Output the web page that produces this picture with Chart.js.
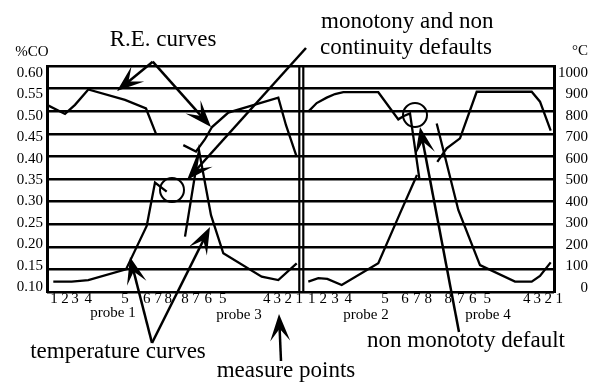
<!DOCTYPE html>
<html><head><meta charset="utf-8">
<script src="https://cdn.jsdelivr.net/npm/chart.js@4.4.1/dist/chart.umd.min.js"></script>
<style>html,body{margin:0;padding:0;background:#fff;}canvas{display:block;}</style>
</head><body>
<canvas id="c" width="590" height="384"></canvas>
<script>
// ---- measure points along the probes (x units) and their labels ----
const measurePositions = [7, 18, 28, 41.3, 78, 99.7, 111.3, 121.3, 138, 149, 161.3, 175.7, 219.7, 230.3, 241.3, 252.3,
                          264.7, 276.3, 288, 301.3, 338, 358, 369.7, 381.3, 401.3, 413.7, 425.7, 440.3, 479.7, 490.3, 501.3, 512.3];
const measureLabels = ['1','2','3','4','5','6','7','8','8','7','6','5','4','3','2','1',
                       '1','2','3','4','5','6','7','8','8','7','6','5','4','3','2','1'];
const coTicks = [0.10, 0.15, 0.20, 0.25, 0.30, 0.35, 0.40, 0.45, 0.50, 0.55, 0.60];
const tempTicks = [0, 100, 200, 300, 400, 500, 600, 700, 800, 900, 1000];

// ---- R.E. curves (%CO) ----
const reProbe1X = [0, 18, 28, 41.3, 78, 99, 109];
const reProbe1  = [0.514, 0.494, 0.514, 0.548, 0.525, 0.506, 0.450];
const reProbe3X = [136.3, 149, 158, 165, 181.3, 231.3, 239, 249.7];
const reProbe3  = [0.425, 0.411, 0.438, 0.465, 0.497, 0.530, 0.469, 0.399];
const reProbe2X = [261.3, 269.7, 279.7, 288, 296.3, 331.3, 351.3, 356.3, 363, 372.3];
const reProbe2  = [0.499, 0.518, 0.530, 0.538, 0.542, 0.542, 0.482, 0.489, 0.495, 0.352];
const reProbe4X = [390.3, 399.7, 413, 429.7, 484.7, 493, 503.7];
const reProbe4  = [0.388, 0.418, 0.440, 0.543, 0.543, 0.521, 0.457];

// ---- temperature curves (°C) ----
const tempProbe1X = [6.3, 24.7, 41.3, 79, 99.7, 108, 119.7];
const tempProbe1  = [46, 46, 53, 100, 292, 484, 444];
const tempProbe3X = [138, 152, 164, 176.3, 214.7, 231.3, 249.7];
const tempProbe3  = [245, 626, 340, 171, 68, 53, 127];
const tempProbe2X = [261.3, 271.3, 280.3, 294.7, 331.3, 353, 370];
const tempProbe2  = [46, 61, 58, 31, 127, 348, 518];
const tempProbe4X = [389.7, 411.3, 433, 468, 484.7, 493, 503.7];
const tempProbe4  = [746, 363, 119, 46, 46, 71, 131];

// ---- figure notes (in x units / %CO units) ----
const panelDivider = [252.3, 256.3];
const noteTexts = [
  {text: 'R.E. curves', x: 116, y: 0.6575, align: 'center', size: 23},
  {text: 'monotony and non', x: 274, y: 0.6973, align: 'left', size: 23},
  {text: 'continuity defaults', x: 273, y: 0.6398, align: 'left', size: 23},
  {text: '%CO', x: -15, y: 0.631, align: 'center', size: 15},
  {text: '°C', x: 533, y: 0.632, align: 'center', size: 15},
  {text: 'probe 1', x: 66, y: 0.0535, align: 'center', size: 15},
  {text: 'probe 3', x: 192, y: 0.050, align: 'center', size: 15},
  {text: 'probe 2', x: 319, y: 0.050, align: 'center', size: 15},
  {text: 'probe 4', x: 441, y: 0.050, align: 'center', size: 15},
  {text: 'temperature curves', x: 71, y: -0.0327, align: 'center', size: 23},
  {text: 'non monototy default', x: 419, y: -0.0084, align: 'center', size: 23},
  {text: 'measure points', x: 239, y: -0.0748, align: 'center', size: 23}
];
const noteArrows = [
  {from: [105.7, 0.6095], to: [70, 0.5447]},
  {from: [105.7, 0.6095], to: [164, 0.465]},
  {from: [259, 0.6398], to: [140, 0.3478]},
  {from: [105, -0.0128], to: [83, 0.1774]},
  {from: [105, -0.0128], to: [163, 0.2438]},
  {from: [234, -0.0527], to: [232, 0.0513]},
  {from: [412, 0.0115], to: [373, 0.465]}
];
const noteCircles = [[125, 0.3257], [368, 0.4916]];

function pts(xs, ys) { return xs.map((v, i) => ({x: v, y: ys[i]})); }
function series(label, xs, ys, axis) {
  return {label, data: pts(xs, ys), yAxisID: axis, borderColor: '#000', borderWidth: 2.3,
          pointRadius: 0, tension: 0, fill: false};
}

const FONT = '"Liberation Serif", "Times New Roman", serif';

function drawArrow(ctx, x1, y1, x2, y2) {
  const dx = x2 - x1, dy = y2 - y1, len = Math.hypot(dx, dy);
  const ux = dx / len, uy = dy / len, nx = -uy, ny = ux;
  const L = 27, W = 10;
  ctx.beginPath(); ctx.moveTo(x1, y1); ctx.lineTo(x2 - ux * L * 0.5, y2 - uy * L * 0.5); ctx.stroke();
  ctx.beginPath(); ctx.moveTo(x2, y2);
  ctx.lineTo(x2 - ux * L + nx * W, y2 - uy * L + ny * W);
  ctx.lineTo(x2 - ux * L * 0.55, y2 - uy * L * 0.55);
  ctx.lineTo(x2 - ux * L - nx * W, y2 - uy * L - ny * W);
  ctx.closePath(); ctx.fill();
}

const notesPlugin = {
  id: 'figureNotes',
  afterDraw(chart) {
    const {ctx, chartArea, scales: {x, y}} = chart;
    const px = u => x.getPixelForValue(u);
    const py = v => y.getPixelForValue(v);
    ctx.save();
    ctx.strokeStyle = '#000'; ctx.fillStyle = '#000';
    ctx.lineWidth = 2.2;
    panelDivider.forEach(u => {
      ctx.beginPath(); ctx.moveTo(px(u), chartArea.top); ctx.lineTo(px(u), chartArea.bottom); ctx.stroke();
    });
    ctx.lineWidth = 2;
    noteCircles.forEach(c => { ctx.beginPath(); ctx.arc(px(c[0]), py(c[1]), 12, 0, Math.PI * 2); ctx.stroke(); });
    ctx.lineWidth = 2.5;
    noteArrows.forEach(a => drawArrow(ctx, px(a.from[0]), py(a.from[1]), px(a.to[0]), py(a.to[1])));
    ctx.textBaseline = 'middle';
    noteTexts.forEach(t => {
      ctx.font = t.size + 'px ' + FONT;
      ctx.textAlign = t.align;
      ctx.fillText(t.text, px(t.x), py(t.y));
    });
    ctx.restore();
  }
};

new Chart(document.getElementById('c'), {
  type: 'line',
  data: {
    datasets: [
      series('R.E. probe 1', reProbe1X, reProbe1, 'y'),
      series('R.E. probe 3', reProbe3X, reProbe3, 'y'),
      series('R.E. probe 2', reProbe2X, reProbe2, 'y'),
      series('R.E. probe 4', reProbe4X, reProbe4, 'y'),
      series('T probe 1', tempProbe1X, tempProbe1, 'y2'),
      series('T probe 3', tempProbe3X, tempProbe3, 'y2'),
      series('T probe 2', tempProbe2X, tempProbe2, 'y2'),
      series('T probe 4', tempProbe4X, tempProbe4, 'y2')
    ]
  },
  options: {
    responsive: false, animation: false, devicePixelRatio: 1,
    layout: {padding: {top: 66, right: 2, left: 0, bottom: 0}},
    plugins: {legend: {display: false}, tooltip: {enabled: false}},
    scales: {
      x: {
        type: 'linear', min: 0, max: 507,
        grid: {display: false}, border: {display: false},
        afterBuildTicks: s => { s.ticks = measurePositions.map(v => ({value: v})); },
        afterFit: s => { s.height = 92; },
        ticks: {autoSkip: false, maxRotation: 0, padding: -10, color: '#000',
                font: {family: FONT, size: 15},
                callback: (v, i) => measureLabels[i]}
      },
      y: {
        position: 'left', min: 0.10, max: 0.60, weight: 0,
        afterBuildTicks: s => { s.ticks = coTicks.map(v => ({value: v})); },
        afterFit: s => { s.width = 0; },
        grid: {color: '#000', lineWidth: 2.6, drawTicks: false},
        border: {display: false},
        ticks: {display: false}
      },
      yL: {
        position: 'left', min: 0.0883, max: 0.6164, weight: 1,
        afterBuildTicks: s => { s.ticks = coTicks.map(v => ({value: v})); },
        afterFit: s => { s.width = 47; },
        grid: {display: false, drawTicks: false},
        border: {display: true, color: '#000', width: 3},
        ticks: {padding: 4, color: '#000', font: {family: FONT, size: 15},
                callback: v => v.toFixed(2)}
      },
      y2: {
        position: 'right', min: 0, max: 1000, display: false
      },
      y2L: {
        position: 'right', min: -18.6, max: 1032.6,
        afterBuildTicks: s => { s.ticks = tempTicks.map(v => ({value: v})); },
        afterFit: s => { s.width = 34; },
        grid: {display: false, drawTicks: false},
        border: {display: true, color: '#000', width: 3},
        ticks: {crossAlign: 'far', color: '#000', font: {family: FONT, size: 15},
                callback: v => String(v)}
      }
    }
  },
  plugins: [notesPlugin]
});
</script>
</body></html>
